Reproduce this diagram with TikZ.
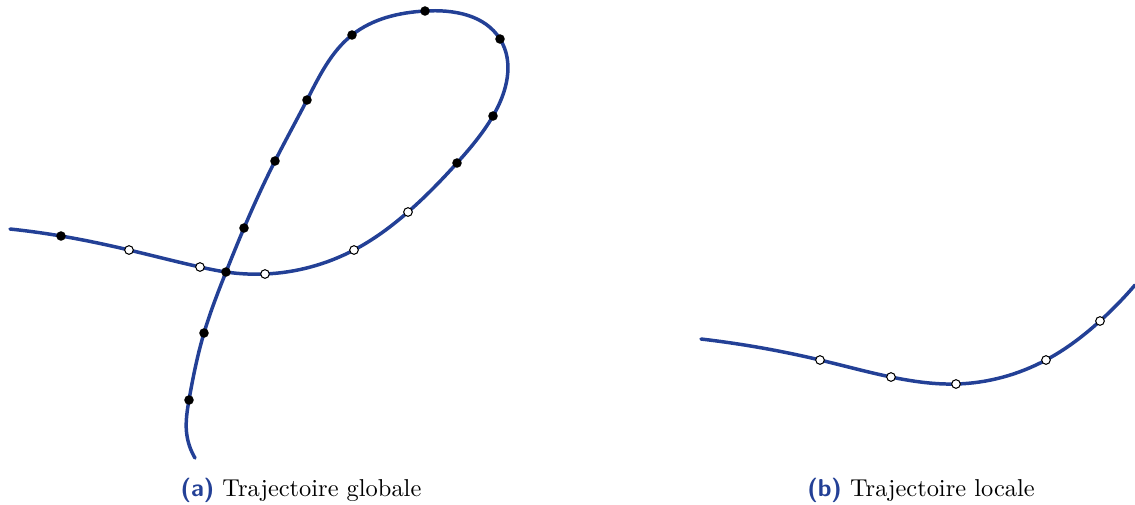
\documentclass[tikz,border=0pt]{standalone}
\usepackage{xcolor}
\usepackage{tikz}
\usetikzlibrary{backgrounds,hobby}
\definecolor{trajblue}{RGB}{35,64,150}

\begin{document}
\begin{tikzpicture}[x=0.43pt, y=-0.43pt,
  traj/.style={trajblue, line width=1.5pt, line cap=round, use Hobby shortcut},
  fulldot/.style={circle, fill=black, inner sep=0pt, minimum size=4.1pt},
  opendot/.style={circle, draw=black, fill=white, line width=0.45pt, inner sep=0pt, minimum size=3.7pt},
  every node/.style={font=\fontsize{10.5}{12.5}\selectfont}]
\useasboundingbox (0,0) rectangle (1135,504);
% (a) global trajectory
\node[fulldot] (g1) at (61,236) {};
\node[opendot] (g2) at (129,250) {};
\node[opendot] (g3) at (200,267) {};
\node[fulldot] (gx) at (226,272) {};
\node[opendot] (g4) at (265,274) {};
\node[opendot] (g5) at (354,250) {};
\node[opendot] (g6) at (408,212) {};
\node[fulldot] (g7) at (457,163) {};
\node[fulldot] (g8) at (493,116) {};
\node[fulldot] (g9) at (500,39) {};
\node[fulldot] (g10) at (425,11) {};
\node[fulldot] (g11) at (352,35) {};
\node[fulldot] (g12) at (307,100) {};
\node[fulldot] (g13) at (275,161) {};
\node[fulldot] (g14) at (244,228) {};
\node[fulldot] (g15) at (204,333) {};
\node[fulldot] (g16) at (189,400) {};
\coordinate (gstart) at (10,229);
\coordinate (gbend) at (186.5,432);
\coordinate (gend) at (195,458);
% (b) local trajectory
\node[opendot] (l1) at (820,360) {};
\node[opendot] (l2) at (891,377) {};
\node[opendot] (l3) at (956,384) {};
\node[opendot] (l4) at (1046,360) {};
\node[opendot] (l5) at (1100,321) {};
\coordinate (lstart) at (701,339);
\coordinate (lend) at (1135,285);
\begin{scope}[on background layer]
\draw[traj] (gstart) .. (g1.center) .. (g2.center) .. (g3.center) .. (gx.center) .. (g4.center) .. (g5.center) .. (g6.center) .. (g7.center) .. (g8.center) .. (g9.center) .. (g10.center) .. (g11.center) .. (g12.center) .. (g13.center) .. (g14.center) .. (gx.center) .. (g15.center) .. (g16.center) .. (gbend) .. (gend);
\draw[traj] (lstart) .. (l1.center) .. (l2.center) .. (l3.center) .. (l4.center) .. (l5.center) .. (lend);
\end{scope}
% captions
\node (capa) at (301,490) {\textcolor{trajblue}{\sffamily\bfseries (a)} Trajectoire globale};
\node (capb) at (921,490) {\textcolor{trajblue}{\sffamily\bfseries (b)} Trajectoire locale};
\end{tikzpicture}
\end{document}
